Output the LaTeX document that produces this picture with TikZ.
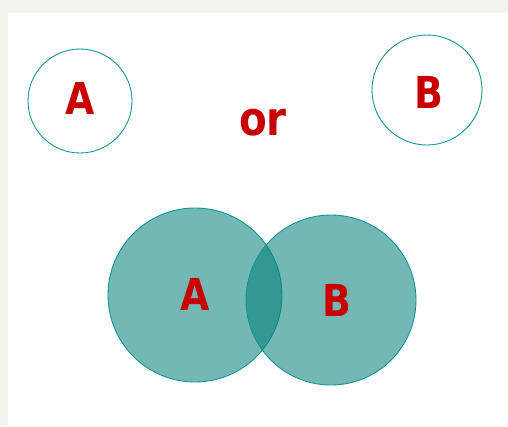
\documentclass[tikz,border=0pt]{standalone}
\usepackage{fontspec}
\newfontfamily\letterfont[FakeStretch=0.86]{DejaVu Sans Bold}
\definecolor{tealline}{RGB}{19,150,150}
\definecolor{tealfill}{RGB}{0,127,119}
\definecolor{letterred}{RGB}{200,0,0}
\definecolor{edgegray}{RGB}{243,243,238}

\begin{document}
\begin{tikzpicture}[x=1pt,y=-1pt,
    set/.style={circle,draw=tealline,line width=0.9pt,inner sep=0pt},
    filledset/.style={set,fill=tealfill,fill opacity=0.55,draw opacity=1},
    letter/.style={text=letterred,inner sep=0pt,font=\fontsize{44}{44}\letterfont}]
  \useasboundingbox (0,0) rectangle (508,426);
  \fill[edgegray] (0,0) rectangle (508,426);
  \fill[white] (8,13) rectangle (508,426);

  % the two sets apart
  \node[set,minimum size=104pt] (a1) at (80,101) {};
  \node[set,minimum size=110pt] (b1) at (427,90) {};
  \node[letter] (la1) at (80,98) {A};
  \node[letter] (lb1) at (429,92) {B};
  \node[letter,font=\fontsize{47}{47}\letterfont] (or) at (263,123) {or};

  % the two sets overlapping
  \node[filledset,minimum size=174pt] (a2) at (195,295) {};
  \node[filledset,minimum size=170pt] (b2) at (331,300) {};
  \node[letter] (la2) at (195,294) {A};
  \node[letter] (lb2) at (337,300) {B};
\end{tikzpicture}
\end{document}
